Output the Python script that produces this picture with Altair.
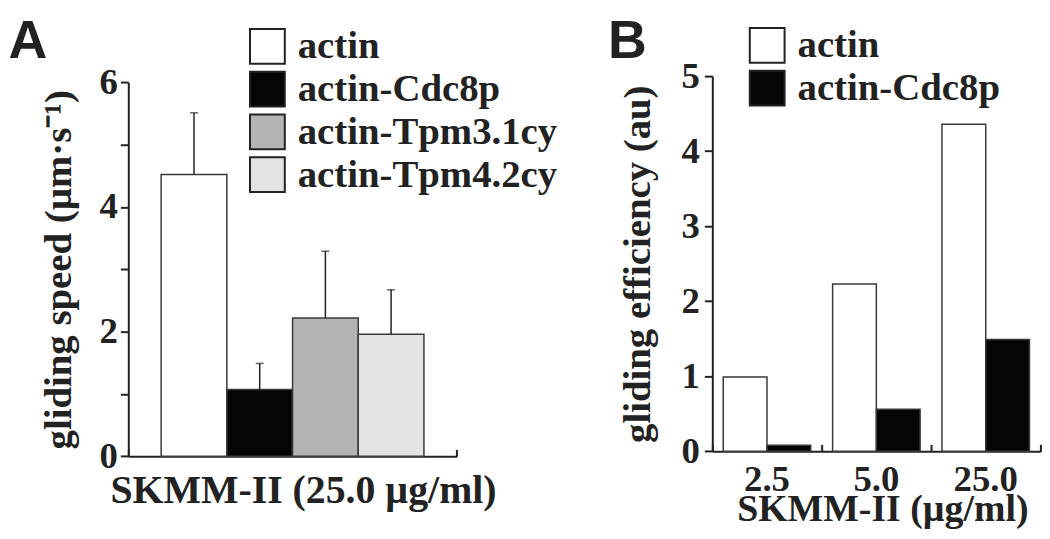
import altair as alt
import pandas as pd

# ---------------- data ----------------
panel_letters = ["A", "B"]

a_group = ["SKMM-II (25.0 µg/ml)"]
a_series = ["actin", "actin-Cdc8p", "actin-Tpm3.1cy", "actin-Tpm4.2cy"]
a_speed = [4.52, 1.07, 2.22, 1.96]
a_error = [0.99, 0.42, 1.07, 0.71]
a_colors = ["#ffffff", "#050505", "#b3b3b3", "#e3e3e3"]
a_ticks = [0, 1, 2, 3, 4, 5, 6]

b_groups = ["2.5", "5.0", "25.0"]
b_series = ["actin", "actin-Cdc8p"]
b_actin = [0.99, 2.23, 4.36]
b_cdc8p = [0.08, 0.56, 1.49]
b_colors = ["#ffffff", "#050505"]
b_ticks = [0, 1, 2, 3, 4, 5]

df_a = pd.DataFrame({
    "group": a_group * len(a_series),
    "series": a_series,
    "speed": a_speed,
    "err": a_error,
})
df_a["top"] = df_a["speed"] + df_a["err"]

rows = []
for i, g in enumerate(b_groups):
    rows.append({"conc": g, "series": b_series[0], "eff": b_actin[i]})
    rows.append({"conc": g, "series": b_series[1], "eff": b_cdc8p[i]})
df_b = pd.DataFrame(rows)

# ---------------- style / layout ----------------
SERIF = "Liberation Serif"
SANS = "Liberation Sans"
INK = "#222222"
A_W, A_H, A_TOP = 330.4, 382.4, 6.2
B_W, B_H = 330.0, 377.4
GAP = 256.4
LETTER_Y = -17.8


def legend(lx, ly):
    return alt.Legend(
        orient="none", legendX=lx, legendY=ly, title=None,
        symbolType="square", symbolSize=1225, symbolStrokeColor=INK,
        symbolStrokeWidth=2, labelFont=SERIF, labelFontSize=39,
        labelFontWeight="bold", labelColor=INK, labelOffset=11,
        rowPadding=0, padding=0, labelLimit=500, direction="vertical",
    )


hack_axis_common = dict(orient="top", tickBand="extent", tickSize=7, tickWidth=2,
                        tickColor=INK, labels=False, domain=False, title=None)

# ---------------- panel A ----------------
xa_scale = alt.Scale(domain=a_group, paddingInner=0, paddingOuter=0)
xa_off_scale = alt.Scale(domain=a_series, paddingInner=0, paddingOuter=0.5)
ya_scale = alt.Scale(domain=[0, 6], range=[A_H, A_TOP], nice=False)
ya_axis = alt.Axis(values=a_ticks, labelExpr="datum.value % 2 === 0 ? datum.label : ''",
                   title="gliding speed (µm·s⁻¹)", titleX=-58, titleBaseline="alphabetic",
                   labelPadding=3)

bars_a = alt.Chart(df_a).mark_bar(stroke="#3a3a3a", strokeWidth=1.5).encode(
    x=alt.X("group:N", scale=xa_scale, title=None,
            axis=alt.Axis(orient="bottom", ticks=False, tickSize=0, labelAngle=0,
                          labelPadding=14, labelFontSize=40, labelOffset=11)),
    xOffset=alt.XOffset("series:N", scale=xa_off_scale),
    y=alt.Y("speed:Q", scale=ya_scale, axis=ya_axis),
    fill=alt.Fill("series:N", scale=alt.Scale(domain=a_series, range=a_colors),
                  legend=legend(120.4, -49.4)),
)
err_a = alt.Chart(df_a).mark_rule(color=INK, strokeWidth=1.5).encode(
    x=alt.X("group:N", axis=None), xOffset=alt.XOffset("series:N"),
    y=alt.Y("speed:Q", axis=ya_axis), y2="top:Q",
)
cap_a = alt.Chart(df_a).mark_tick(color=INK, size=8, thickness=1.5).encode(
    x=alt.X("group:N", axis=None), xOffset=alt.XOffset("series:N"),
    y=alt.Y("top:Q", axis=ya_axis),
)
hack_a = alt.Chart(df_a).mark_bar(opacity=0).encode(
    x=alt.X("group:N", axis=alt.Axis(offset=-A_H, **hack_axis_common)),
    xOffset=alt.XOffset("series:N"),
    y=alt.Y("speed:Q", axis=ya_axis),
)
letter_df_a = pd.DataFrame({"t": [panel_letters[0]]})
letter_a = alt.Chart(letter_df_a).mark_text(
    align="left", baseline="alphabetic", font=SANS, fontSize=54, fontWeight="bold", color=INK
).encode(text="t:N", x=alt.value(-120.6), y=alt.value(LETTER_Y))
# invisible layout anchor marking the top-left corner of the page content
anchor_a = alt.Chart(letter_df_a).mark_rule(opacity=0, strokeWidth=1).encode(
    x=alt.value(-120.6), x2=alt.value(-110), y=alt.value(-66.1))

chart_a = alt.layer(bars_a, err_a, cap_a, hack_a, letter_a, anchor_a).resolve_axis(
    x="independent").properties(width=A_W, height=A_H)

# ---------------- panel B ----------------
xb_scale = alt.Scale(domain=b_groups, paddingInner=0, paddingOuter=0)
xb_off_scale = alt.Scale(domain=b_series, paddingInner=0, paddingOuter=0.25)
yb_scale = alt.Scale(domain=[0, 5], nice=False)
yb_axis = alt.Axis(values=b_ticks, title="gliding efficiency (au)", titleX=-63.6,
                   titleBaseline="alphabetic", labelPadding=5)

bars_b = alt.Chart(df_b).mark_bar(stroke="#3a3a3a", strokeWidth=1.5).encode(
    x=alt.X("conc:N", scale=xb_scale, sort=b_groups, title="SKMM-II (µg/ml)",
            axis=alt.Axis(orient="bottom", ticks=False, tickSize=0, labelAngle=0,
                          labelPadding=10, labelFontSize=37, titleY=70, titleX=171,
                          titleAlign="center", titleFontSize=38,
                          titleBaseline="alphabetic")),
    xOffset=alt.XOffset("series:N", scale=xb_off_scale),
    y=alt.Y("eff:Q", scale=yb_scale, axis=yb_axis),
    fill=alt.Fill("series:N", scale=alt.Scale(domain=b_series, range=b_colors),
                  legend=legend(35.7, -50.4)),
)
hack_b = alt.Chart(df_b).mark_bar(opacity=0).encode(
    x=alt.X("conc:N", sort=b_groups, axis=alt.Axis(offset=-B_H, **hack_axis_common)),
    xOffset=alt.XOffset("series:N"),
    y=alt.Y("eff:Q", axis=yb_axis),
)
letter_b = alt.Chart(pd.DataFrame({"t": [panel_letters[1]]})).mark_text(
    align="left", baseline="alphabetic", font=SANS, fontSize=54, fontWeight="bold", color=INK
).encode(text="t:N", x=alt.value(-105), y=alt.value(LETTER_Y))

chart_b = alt.layer(bars_b, hack_b, letter_b).resolve_axis(
    x="independent").properties(width=B_W, height=B_H)

# ---------------- assemble ----------------
chart = alt.hconcat(
    chart_a, chart_b, spacing=GAP, bounds="flush", padding=0, background="white"
).resolve_scale(
    x="independent", y="independent", fill="independent", xOffset="independent"
).configure_view(stroke=None).configure_axis(
    domainColor=INK, domainWidth=2, tickColor=INK, tickWidth=2, tickSize=8,
    labelFont=SERIF, labelFontWeight="bold", labelFontSize=37, labelColor=INK,
    titleFont=SERIF, titleFontWeight="bold", titleFontSize=39, titleColor=INK,
    grid=False, labelLimit=600,
)

chart.save("out.html", embed_options={"renderer": "svg", "actions": False})
